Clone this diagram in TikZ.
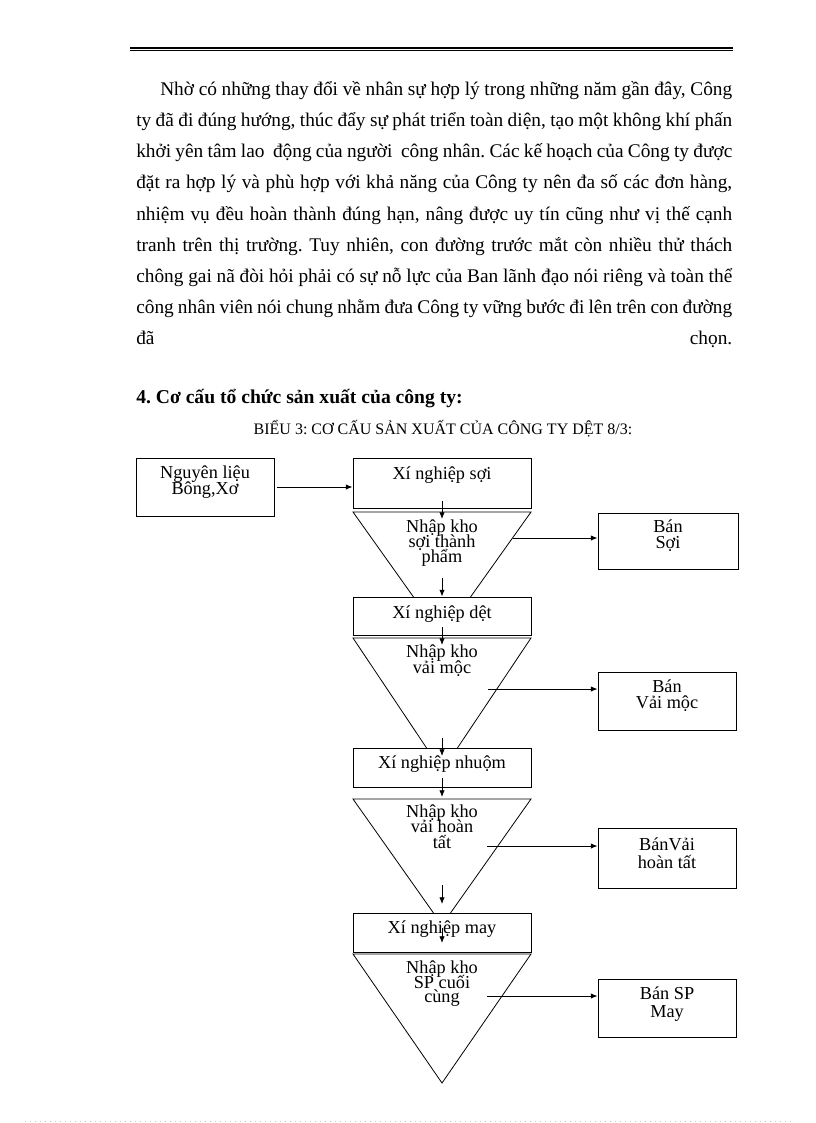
\documentclass[tikz,border=0pt]{standalone}
\usepackage{fontspec}
\setmainfont{Liberation Serif}
\usetikzlibrary{arrows.meta,fit}
\begin{document}
\frenchspacing
\begin{tikzpicture}[x=0.75pt,y=-0.75pt,
  box/.style={draw,line width=0.75pt,inner sep=0pt,fill=white},
  arr/.style={line width=0.6pt,-{Latex[length=5pt,width=4pt]}},
  tri/.style={line width=0.6pt},
  lbl/.style={inner sep=0pt,anchor=base,font=\fontsize{13.7}{15}\selectfont},
  para/.style={inner sep=0pt,anchor=base west,font=\fontsize{14.5}{17}\selectfont}]
\useasboundingbox[fill=white] (0,0) rectangle (816,1123);

% header rules
\draw[line width=1.7pt] (130,47.8) -- (733,47.8);
\draw[line width=0.75pt] (130,50.6) -- (733,50.6);

% paragraph
\node[para] (p1) at (160,96) {\makebox[429pt][s]{Nhờ có những thay đổi về nhân sự hợp lý trong những năm gần đây, Công}};
\node[para] (p2) at (136,127) {\makebox[447pt][s]{ty đã đi đúng hướng, thúc đẩy sự phát triển toàn diện, tạo một không khí phấn}};
\node[para] (p3) at (136,158) {\makebox[447pt][s]{khởi yên tâm lao \ động của người \ công nhân. Các kế hoạch của Công ty được}};
\node[para] (p4) at (136,189) {\makebox[447pt][s]{đặt ra hợp lý và phù hợp với khả năng của Công ty nên đa số các đơn hàng,}};
\node[para] (p5) at (136,220) {\makebox[447pt][s]{nhiệm vụ đều hoàn thành đúng hạn, nâng được uy tín cũng như vị thế cạnh}};
\node[para] (p6) at (136,251) {\makebox[447pt][s]{tranh trên thị trường. Tuy nhiên, con đường trước mắt còn nhiều thử thách}};
\node[para] (p7) at (136,282) {\makebox[447pt][s]{chông gai nã đòi hỏi phải có sự nỗ lực của Ban lãnh đạo nói riêng và toàn thể}};
\node[para] (p8) at (136,313) {\makebox[447pt][s]{công nhân viên nói chung nhằm đưa Công ty vững bước đi lên trên con đường}};
\node[para] (p9) at (136,344) {\makebox[447pt][s]{đã\hfill chọn.}};

% heading and caption
\node[inner sep=0pt,anchor=base west,font=\fontsize{14.7}{17}\selectfont\bfseries] (head) at (136,403) {4. Cơ cấu tổ chức sản xuất của công ty:};
\node[inner sep=0pt,anchor=base,font=\fontsize{12}{14}\selectfont] (cap) at (443,434) {BIỂU 3: CƠ CẤU SẢN XUẤT CỦA CÔNG TY DỆT 8/3:};

% triangles
\draw[tri] (413.5,597) -- (353,512) -- (531,512) -- (470.5,597);
\draw[tri] (426.6,748) -- (353,638) -- (531,638) -- (457.4,748);
\draw[tri] (433.5,913) -- (353,799) -- (531,799) -- (450.5,913);
\draw[tri] (442,1083) -- (353,954) -- (531,954) -- cycle;

% boxes
\node[box,fit={(136,458) (274,516)}] (nl) {};
\node[box,fit={(353,458) (531,508)}] (s1) {};
\node[box,fit={(598,513) (738,569)}] (bs) {};
\node[box,fit={(353,597) (531,635)}] (s2) {};
\node[box,fit={(598,672) (736,730)}] (bvm) {};
\node[box,fit={(353,748) (531,787)}] (s3) {};
\node[box,fit={(598,828) (736,888)}] (bvh) {};
\node[box,fit={(353,913) (531,952)}] (s4) {};
\node[box,fit={(598,979) (736,1037)}] (bsp) {};

% labels
\node[lbl] (nl1) at (205,478) {Nguyên liệu};
\node[lbl] (nl2) at (205,494) {Bông,Xơ};
\node[lbl] (s1t) at (442,479) {Xí nghiệp sợi};
\node[lbl] (t1a) at (442,532) {Nhập kho};
\node[lbl] (t1b) at (442,547) {sợi thành};
\node[lbl] (t1c) at (442,562) {phẩm};
\node[lbl] (bs1) at (668,532) {Bán};
\node[lbl] (bs2) at (668,548) {Sợi};
\node[lbl] (s2t) at (442,618) {Xí nghiệp dệt};
\node[lbl] (t2a) at (442,657) {Nhập kho};
\node[lbl] (t2b) at (442,673) {vải mộc};
\node[lbl] (bvm1) at (667,692) {Bán};
\node[lbl] (bvm2) at (667,708) {Vải mộc};
\node[lbl] (s3t) at (442,768) {Xí nghiệp nhuộm};
\node[lbl] (t3a) at (442,817) {Nhập kho};
\node[lbl] (t3b) at (442,832) {vải hoàn};
\node[lbl] (t3c) at (442,848) {tất};
\node[lbl] (bvh1) at (667,850) {BánVải};
\node[lbl] (bvh2) at (667,868) {hoàn tất};
\node[lbl] (s4t) at (442,933) {Xí nghiệp may};
\node[lbl] (t4a) at (442,973) {Nhập kho};
\node[lbl] (t4b) at (442,988) {SP cuối};
\node[lbl] (t4c) at (442,1002) {cùng};
\node[lbl] (bsp1) at (667,999) {Bán SP};
\node[lbl] (bsp2) at (667,1017) {May};

% arrow start/end coordinates
\coordinate (c0) at (277,487);
\coordinate (c1) at (442,501);
\coordinate (c1e) at (442,519);
\coordinate (c2) at (442,578);
\coordinate (c3) at (442,627);
\coordinate (c3e) at (442,645);
\coordinate (c4) at (442,738);
\coordinate (c4e) at (442,756);
\coordinate (c5) at (442,778);
\coordinate (c5e) at (442,797);
\coordinate (c6) at (442,885);
\coordinate (c6e) at (442,904);
\coordinate (c7) at (442,928);
\coordinate (c7e) at (442,943);
\coordinate (h1) at (513,538);
\coordinate (h2) at (488,689);
\coordinate (h3) at (487,846);
\coordinate (h4) at (487,996);

% arrows
\draw[arr] (c0) -- (c0 -| s1.west);
\draw[arr] (c1) -- (c1e);
\draw[arr] (c2) -- (s2.north);
\draw[arr] (c3) -- (c3e);
\draw[arr] (c4) -- (c4e);
\draw[arr] (c5) -- (c5e);
\draw[arr] (c6) -- (c6e);
\draw[arr] (c7) -- (c7e);
\draw[arr] (h1) -- (h1 -| bs.west);
\draw[arr] (h2) -- (h2 -| bvm.west);
\draw[arr] (h3) -- (h3 -| bvh.west);
\draw[arr] (h4) -- (h4 -| bsp.west);

% bottom dotted line
\draw[gray!45,line width=0.5pt,dash pattern=on 0.75pt off 3pt] (25,1121) -- (791,1121);
\end{tikzpicture}
\end{document}
